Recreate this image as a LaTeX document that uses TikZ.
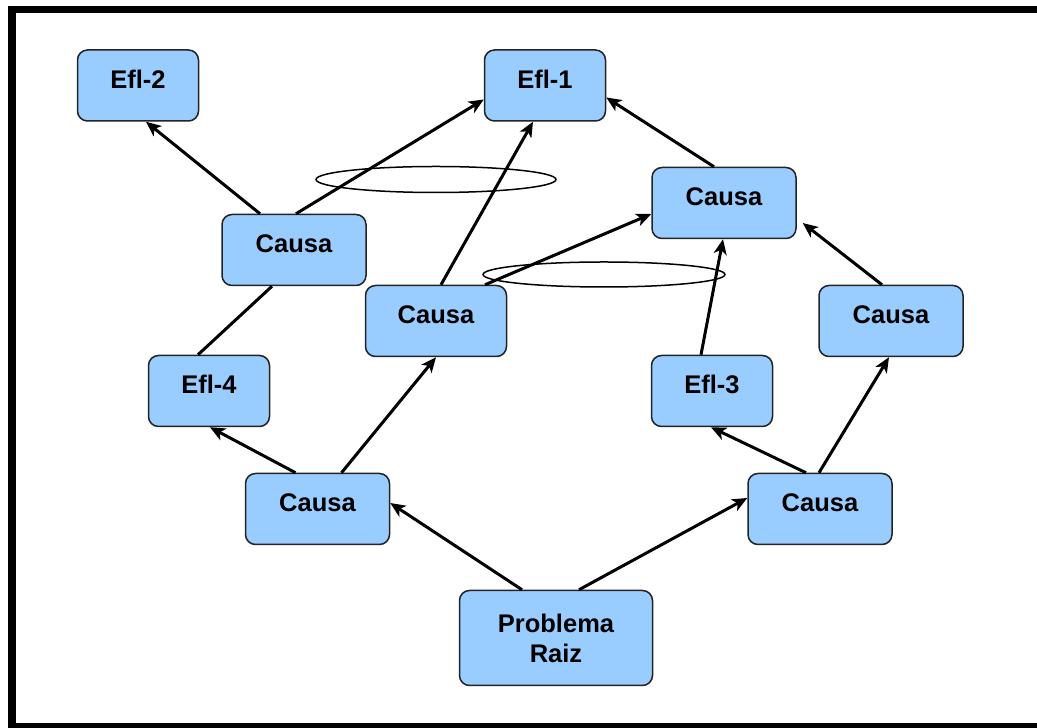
\documentclass[tikz,border=0pt]{standalone}
\usepackage{fontspec}
\setmainfont{Liberation Sans}
\usetikzlibrary{arrows.meta}
\definecolor{boxblue}{RGB}{153,204,255}
\definecolor{boxline}{RGB}{35,35,35}
\tikzset{
  box/.style={draw=boxline, line width=1.5pt, fill=boxblue, rounded corners=10pt,
    inner xsep=0pt, inner ysep=0pt, font=\fontsize{25.5}{30}\selectfont\bfseries,
    text height=38.5pt, text depth=32.5pt},
  eflbox/.style={box, minimum width=121pt},
  causabox/.style={box, minimum width=144pt},
  rootbox/.style={draw=boxline, line width=1.5pt, fill=boxblue, rounded corners=10pt,
    minimum width=193pt, minimum height=95pt, align=center,
    font=\fontsize{25.5}{30}\selectfont\bfseries},
  arr/.style={line width=3pt, -{Stealth[length=15pt,width=13pt,inset=4pt]}},
  plain/.style={line width=3pt},
  ring/.style={line width=1.5pt, draw=black}
}
\begin{document}
\begin{tikzpicture}[x=1pt,y=1pt]
\useasboundingbox (0,0) rectangle (1037,728);
\fill[white] (0,0) rectangle (1037,728);
% frame
\fill[black] (8,715) rectangle (1037,722);
\fill[black] (8,0) rectangle (16,722);
\fill[black] (8,0) rectangle (1037,5);
% nodes
\node[eflbox] (efl2) at (138,642.5) {Efl-2};
\node[eflbox] (efl1) at (545,642.5) {Efl-1};
\node[causabox] (ctr) at (724,525) {Causa};
\node[causabox] (clu) at (294,478) {Causa};
\node[causabox, minimum width=141pt] (cm) at (436,407) {Causa};
\node[causabox] (cr) at (891,407) {Causa};
\node[eflbox] (efl4) at (209,337) {Efl-4};
\node[eflbox] (efl3) at (712,337) {Efl-3};
\node[causabox] (cbl) at (317.5,219) {Causa};
\node[causabox] (cbr) at (820,219) {Causa};
\node[rootbox] (pr) at (556,90) {Problema\\Raiz};
% ellipses
\draw[ring] (436,548.5) ellipse [x radius=120, y radius=13];
\draw[ring] (604,453.5) ellipse [x radius=121, y radius=12.5];
% connectors
\draw[arr] ([xshift=-34pt]clu.north) -- ([xshift=8pt]efl2.south);
\draw[arr] ([xshift=2pt]clu.north) -- ([yshift=-14pt]efl1.west);
\draw[arr] ([xshift=5pt]cm.north) -- ([xshift=-12pt]efl1.south);
\draw[arr] ([xshift=-10pt]ctr.north) -- ([yshift=-12pt]efl1.east);
\draw[arr] ([xshift=49pt]cm.north) -- ([yshift=-11pt]ctr.west);
\draw[arr] ([xshift=-11pt]efl3.north) -- ([xshift=-1pt]ctr.south);
\draw[arr] ([xshift=-9pt]cr.north) -- ([xshift=6pt,yshift=-20pt]ctr.east);
\draw[plain] ([xshift=-22pt]clu.south) -- ([xshift=-11pt]efl4.north);
\draw[arr] ([xshift=-22pt]cbl.north) -- ([xshift=1pt]efl4.south);
\draw[arr] ([xshift=24pt]cbl.north) -- (cm.south);
\draw[arr] ([xshift=-34pt]pr.north) -- ([yshift=6pt]cbl.east);
\draw[arr] ([xshift=23pt]pr.north) -- ([yshift=11pt]cbr.west);
\draw[arr] ([xshift=-14pt]cbr.north) -- ([xshift=-1pt]efl3.south);
\draw[arr] ([xshift=-1pt]cbr.north) -- ([xshift=-2pt]cr.south);
\end{tikzpicture}
\end{document}
